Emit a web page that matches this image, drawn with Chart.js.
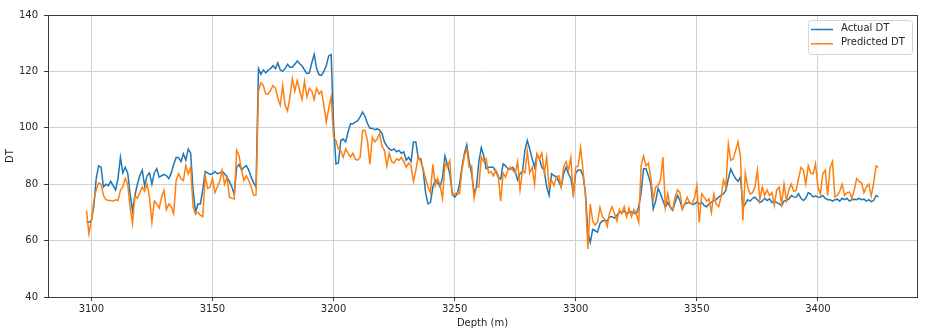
<!DOCTYPE html>
<html>
<head>
<meta charset="utf-8">
<title>Actual vs Predicted DT</title>
<script src="https://cdn.jsdelivr.net/npm/chart.js@4.4.1/dist/chart.umd.min.js"></script>
<style>
  html, body { margin: 0; padding: 0; background: #ffffff; }
  canvas { display: block; }
</style>
</head>
<body>
<canvas id="dt-chart" width="931" height="333"></canvas>
<script>
// Depth samples: one reading per metre
const depthStart = 3098;
const depthEnd = 3425;

// Measured sonic log (one value per metre, 3098 to 3425)
const actualDT = [
  66.5, 66.5, 67, 72, 82, 86.5, 86, 79, 80, 79.5,
  81, 79.5, 78, 82, 89.5, 84, 86, 84, 76.6, 70.6,
  76, 80, 83, 85, 79.5, 83, 84, 80, 84, 85.5,
  82.5, 83, 83.5, 83, 82, 84, 87, 89.5, 89.5, 88,
  90.8, 88.5, 92.5, 91, 78, 70, 73, 73, 78, 84.5,
  84, 83.5, 83.7, 84.5, 83.7, 84, 84.5, 83.7, 82.5, 81,
  79, 76.5, 86, 87, 85, 86, 86.6, 85, 82.5, 80.5,
  79, 121, 119, 120.5, 119.5, 120.5, 121, 122, 121, 123,
  120.5, 120, 121, 122.5, 121.5, 121.5, 122.5, 123.7, 122.7, 122,
  120.5, 119.2, 119.5, 123, 126, 121, 118.8, 118.6, 120, 122,
  125.5, 126, 101.4, 87.2, 87.5, 95.5, 96, 95, 98.5, 101.4,
  101.4, 102, 102.5, 104, 105.6, 104, 101.5, 99.8, 99.8, 99.3,
  99.6, 99.2, 98, 95, 93.5, 92.5, 92, 92.5, 91.5, 92,
  91, 91.5, 88.5, 89.5, 88, 95, 95, 89, 89, 85,
  77, 73, 73.5, 78.9, 81.5, 80.5, 79, 82.5, 90, 87,
  83.7, 77, 75.4, 76.5, 80, 86, 90.8, 94, 88, 83.7,
  77, 78.9, 88, 93, 90, 85.5, 86, 86, 86, 84.5,
  82.5, 81.8, 87.2, 86.5, 85.5, 85.3, 86, 84.5, 81.5, 83.7,
  84.5, 92, 95.5, 92.5, 89, 86, 90.5, 89, 86, 85,
  79, 76, 83.7, 83, 82.7, 81, 79, 83.7, 86, 83.7,
  82, 76.6, 84, 85, 85, 83, 77, 63, 59.4, 64,
  63.5, 63, 66, 67, 67, 67, 68.5, 68.5, 68, 69,
  70, 70, 70.5, 69.5, 70, 70.2, 69.8, 69.5, 72, 77,
  85.5, 85.5, 83, 80, 71.2, 74, 78.5, 76.6, 74.2, 71.8,
  73.5, 71.8, 70.7, 73.5, 76, 74.2, 71.2, 73, 73.3, 73.5,
  72.8, 73, 73.6, 73, 73.6, 72.5, 72, 73, 73.6, 74.2,
  74.5, 75.4, 76, 76.6, 77.8, 82, 85.4, 83.5, 82, 81,
  82.5, 71.8, 73, 74.5, 74, 75, 75.4, 74.5, 73.5, 74,
  75, 74.2, 74.8, 73.5, 74, 73.5, 73, 72.5, 74, 74.2,
  74.8, 76, 75.5, 75.4, 76.6, 75, 74.2, 75, 77, 76.5,
  75.5, 75.8, 75.5, 75.4, 76, 75, 74.5, 74.5, 74, 74.5,
  74.7, 74, 75, 74.5, 75, 74, 74.5, 74.7, 74.5, 75,
  74.5, 74.7, 74, 74.5, 73.8, 74.2, 76, 75.5
];

// Model output over the same depths
const predictedDT = [
  70.7, 62.4, 67, 74, 78, 80.5, 80, 76, 74.5, 74.2,
  74.2, 74, 74.5, 74.2, 77.8, 79, 82, 80, 71.8, 66,
  76, 75, 77, 79, 77.5, 80, 75.4, 66.5, 74, 73,
  71.5, 75.4, 77.8, 71, 73, 72, 69.5, 81.3, 83.7, 82,
  81.3, 86.6, 83.7, 86, 72, 69.5, 70, 69, 68.5, 83,
  78.5, 79, 82, 77, 79, 81, 84.9, 80, 82.5, 75.4,
  75, 74.8, 92, 90, 85, 81.3, 83, 81.3, 79, 76,
  76.2, 113, 116, 115, 112, 112, 113.3, 115, 114, 110.5,
  108, 115, 108, 106, 111, 117.4, 113, 116.8, 113.3, 110,
  116.5, 111, 114, 113, 110, 114, 112, 113, 108, 102,
  107, 111, 96.7, 95.5, 92.5, 91.8, 89.6, 92.5, 91, 89.6,
  91, 88.8, 88.5, 89.6, 99, 99, 95.5, 87, 96.7, 95,
  96, 98, 93.5, 92, 86.5, 91, 88, 87.5, 89, 88.5,
  89.5, 88, 86, 87.5, 86.5, 81, 85, 90, 88, 85.5,
  82, 79, 77, 87, 79.5, 82, 79.5, 75, 87.5, 86,
  88.4, 76, 76.6, 77, 76.6, 85, 90, 92.5, 86, 86.5,
  75, 79, 79, 89.6, 88, 89, 84, 84.5, 83, 85,
  83, 74, 84, 82.5, 85, 86, 84.9, 84, 88, 78,
  84.9, 84, 91.7, 84, 86, 80, 90.8, 89, 91, 84,
  89.6, 79, 81.3, 79.5, 82.5, 83, 79, 86, 88, 85,
  89.5, 75.4, 86, 86.5, 93, 85, 76, 57, 73, 67,
  65.5, 66.5, 71.8, 68.5, 67.5, 65, 70, 72, 69.5, 67,
  71, 69.5, 72, 68.3, 71.5, 68.5, 71, 69.5, 66.5, 86.5,
  90, 86.5, 87.5, 82.5, 74.5, 79, 79.5, 81.5, 89.6, 71.8,
  76.6, 72, 71, 75.4, 78, 77, 71.2, 73, 75.4, 73.5,
  73, 75, 79.5, 66.5, 76.6, 75.4, 74, 74.8, 70, 76.6,
  73, 72, 75.4, 81.5, 79, 94.3, 88.4, 89, 92, 95,
  90, 67.1, 84, 79, 76.5, 77, 79, 85, 74.5, 79,
  76, 78, 76, 77, 72.5, 78, 79, 73, 80, 74.2,
  78, 80, 77.5, 77.8, 82, 86, 85, 80, 86.6, 84,
  83.7, 87.2, 79, 76.5, 83.7, 85, 76, 85.9, 88, 75.5,
  76, 77.5, 80, 76, 77, 77.2, 75, 78, 82, 81,
  80.5, 77, 79, 80, 75.8, 80.5, 86.5, 86
];

const xTicks = [3100, 3150, 3200, 3250, 3300, 3350, 3400];
const yTicks = [40, 60, 80, 100, 120, 140];

const depths = [];
for (let d = depthStart; d <= depthEnd; d++) depths.push(d);

const toPoints = (values) => values.map((v, i) => ({ x: depths[i], y: v }));

const FONT = "'DejaVu Sans', sans-serif";
const TEXT = '#262626';

// Axes frame on all four sides
const framePlugin = {
  id: 'frame',
  afterDraw(chart) {
    const { ctx, chartArea: a } = chart;
    ctx.save();
    ctx.strokeStyle = '#3a3a3a';
    ctx.lineWidth = 1;
    ctx.strokeRect(Math.round(a.left) + 0.5, Math.round(a.top) + 0.5,
      Math.round(a.right - a.left), Math.round(a.bottom - a.top));
    ctx.restore();
  }
};

// Boxed legend in the upper right corner of the plot
const cornerLegend = {
  id: 'cornerLegend',
  afterDraw(chart) {
    const { ctx, chartArea: a } = chart;
    const sets = chart.data.datasets;
    const w = 104, h = 34;
    const x = a.right - 5 - w, y = a.top + 5;
    ctx.save();
    ctx.beginPath();
    ctx.roundRect(x + 0.5, y + 0.5, w, h, 3);
    ctx.fillStyle = 'rgba(255,255,255,0.85)';
    ctx.fill();
    ctx.strokeStyle = '#d6d6d6';
    ctx.lineWidth = 1;
    ctx.stroke();
    ctx.font = '10px ' + FONT;
    ctx.textBaseline = 'middle';
    ctx.fillStyle = TEXT;
    sets.forEach((ds, i) => {
      const ly = y + 9.5 + i * 14.3;
      ctx.beginPath();
      ctx.moveTo(x + 3, ly);
      ctx.lineTo(x + 25, ly);
      ctx.strokeStyle = ds.borderColor;
      ctx.lineWidth = 1.5;
      ctx.stroke();
      ctx.fillText(ds.label, x + 33, ly - 1);
    });
    ctx.restore();
  }
};

new Chart(document.getElementById('dt-chart'), {
  type: 'line',
  data: {
    datasets: [
      {
        label: 'Actual DT',
        data: toPoints(actualDT),
        borderColor: '#1f77b4',
        borderWidth: 1.5,
        pointRadius: 0,
        tension: 0,
        order: 1
      },
      {
        label: 'Predicted DT',
        data: toPoints(predictedDT),
        borderColor: '#ff7f0e',
        borderWidth: 1.5,
        pointRadius: 0,
        tension: 0,
        order: 0
      }
    ]
  },
  options: {
    responsive: false,
    animation: false,
    devicePixelRatio: 1,
    layout: { padding: { top: 15, right: 14, left: 0, bottom: 0 } },
    plugins: {
      legend: { display: false },
      tooltip: { enabled: false }
    },
    scales: {
      x: {
        type: 'linear',
        min: 3082.1,
        max: 3440.9,
        afterBuildTicks: (s) => { s.ticks = xTicks.map(v => ({ value: v })); },
        afterFit: (s) => { s.height = 36; },
        grid: { color: '#d0d0d0', tickColor: '#3a3a3a', tickLength: 4, drawOnChartArea: true },
        border: { display: false },
        ticks: {
          color: TEXT,
          font: { family: FONT, size: 10 },
          padding: 2,
          maxRotation: 0,
          callback: (v) => String(v)
        },
        title: {
          display: true,
          text: 'Depth (m)',
          color: TEXT,
          font: { family: FONT, size: 10 },
          padding: { top: 0, bottom: 4 }
        }
      },
      y: {
        min: 40,
        max: 140,
        afterBuildTicks: (s) => { s.ticks = yTicks.map(v => ({ value: v })); },
        afterFit: (s) => { s.width = 48; },
        grid: { color: '#d0d0d0', tickColor: '#3a3a3a', tickLength: 4 },
        border: { display: false },
        ticks: {
          color: TEXT,
          font: { family: FONT, size: 10 },
          padding: 6,
          callback: (v) => String(v)
        },
        title: {
          display: true,
          text: 'DT',
          color: TEXT,
          font: { family: FONT, size: 10 },
          padding: { top: 4, bottom: 0 }
        }
      }
    }
  },
  plugins: [framePlugin, cornerLegend]
});
</script>
</body>
</html>
